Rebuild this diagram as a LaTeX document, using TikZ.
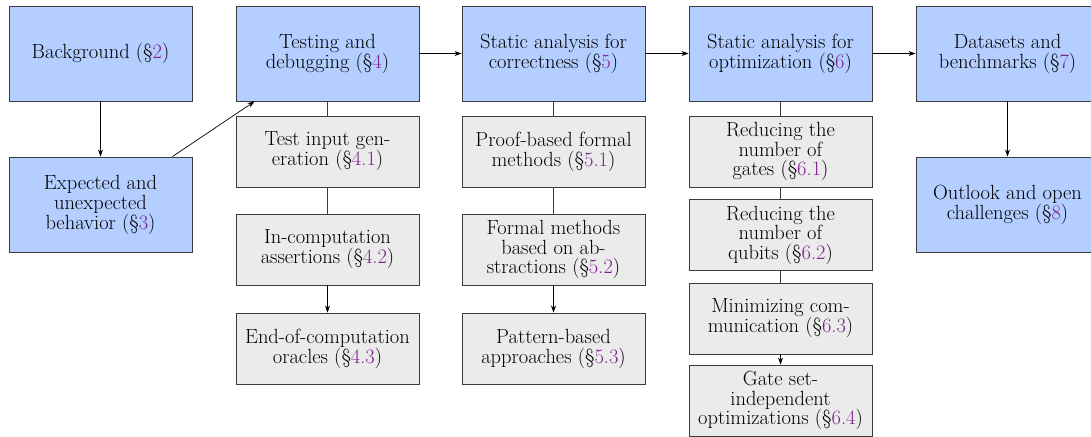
\documentclass[tikz,border=0pt]{standalone}
\usetikzlibrary{arrows.meta,calc}
\definecolor{topblue}{RGB}{180,206,255}
\definecolor{subgray}{RGB}{235,235,235}
\definecolor{linkpurple}{RGB}{125,35,140}
\definecolor{edgegray}{RGB}{60,60,60}
\newcommand{\sref}[1]{(\S\textcolor{linkpurple}{#1})}
\begin{document}
\begin{tikzpicture}[x=1pt,y=-1pt,
  box/.style={draw=edgegray,line width=0.9pt,minimum width=183pt,align=center,
    font=\fontsize{20.5}{20}\selectfont,inner sep=2pt},
  topbox/.style={box,fill=topblue,minimum height=95pt},
  subbox/.style={box,fill=subgray,minimum height=71pt},
  tight/.style={font=\fontsize{20.5}{19.5}\selectfont},
  link/.style={draw=edgegray,line width=0.9pt},
  arr/.style={draw=black,line width=0.7pt,-{Stealth[length=7pt,width=5pt]}}]
\useasboundingbox (0,0) rectangle (1091,436);
\fill[white] (0,0) rectangle (1091,436);
% top row
\node[topbox] (bg) at (100.5,53.5) {Background \sref{2}};
\node[topbox] (exp) at (100.5,204.5) {Expected and\\unexpected\\behavior \sref{3}};
\node[topbox] (test) at (327.5,53.5) {Testing and\\debugging \sref{4}};
\node[topbox] (corr) at (553.5,53.5) {Static analysis for\\correctness \sref{5}};
\node[topbox] (opt) at (780.5,53.5) {Static analysis for\\optimization \sref{6}};
\node[topbox] (data) at (1007.5,53.5) {Datasets and\\benchmarks \sref{7}};
\node[topbox] (out) at (1007.5,204.5) {Outlook and open\\challenges \sref{8}};
% column 4
\node[subbox] (t1) at (327.5,151.5) {Test input gen-\\eration \sref{4.1}};
\node[subbox] (t2) at (327.5,249.5) {In-computation\\assertions \sref{4.2}};
\node[subbox] (t3) at (327.5,348.5) {End-of-computation\\oracles \sref{4.3}};
% column 5
\node[subbox] (c1) at (553.5,151.5) {Proof-based formal\\methods \sref{5.1}};
\node[subbox,tight] (c2) at (553.5,249.5) {Formal methods\\based on ab-\\stractions \sref{5.2}};
\node[subbox] (c3) at (553.5,348.5) {Pattern-based\\approaches \sref{5.3}};
% column 6
\node[subbox,tight] (o1) at (780.5,151.5) {Reducing the\\number of\\gates \sref{6.1}};
\node[subbox,tight] (o2) at (780.5,235) {Reducing the\\number of\\qubits \sref{6.2}};
\node[subbox] (o3) at (780.5,318.5) {Minimizing com-\\munication \sref{6.3}};
\node[subbox,tight] (o4) at (780.5,400.5) {Gate set-\\independent\\optimizations \sref{6.4}};
% plain links
\draw[link] (test) -- (t1);
\draw[link] (t1) -- (t2);
\draw[link] (corr) -- (c1);
\draw[link] (c1) -- (c2);
\draw[link] (opt) -- (o1);
\draw[link] (o1) -- (o2);
\draw[link] (o2) -- (o3);
% arrows
\draw[arr] (bg) -- (exp);
\draw[arr] ([xshift=-20pt]exp.north east) -- ([xshift=19pt]test.south west);
\draw[arr] (test) -- (corr);
\draw[arr] (corr) -- (opt);
\draw[arr] (opt) -- (data);
\draw[arr] (data) -- (out);
\draw[arr] (t2) -- (t3);
\draw[arr] (c2) -- (c3);
\draw[arr] (o3) -- (o4);
\end{tikzpicture}
\end{document}
